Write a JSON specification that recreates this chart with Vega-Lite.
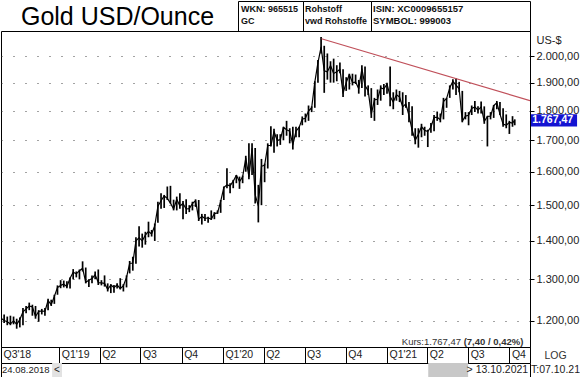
{
  "$schema": "https://vega.github.io/schema/vega-lite/v6.json",
  "padding": 0,
  "spacing": 30,
  "bounds": "flush",
  "background": "white",
  "autosize": {"type": "pad"},
  "datasets": {
    "gold": [
      {"d":"2018-08-24","lo":1185,"hi":1210,"c":1206},
      {"d":"2018-08-31","lo":1195,"hi":1215,"c":1201},
      {"d":"2018-09-07","lo":1190,"hi":1210,"c":1198},
      {"d":"2018-09-14","lo":1190,"hi":1212,"c":1193},
      {"d":"2018-09-21","lo":1192,"hi":1210,"c":1200},
      {"d":"2018-09-28","lo":1182,"hi":1205,"c":1192},
      {"d":"2018-10-05","lo":1185,"hi":1208,"c":1203},
      {"d":"2018-10-12","lo":1190,"hi":1230,"c":1221},
      {"d":"2018-10-19","lo":1218,"hi":1235,"c":1228},
      {"d":"2018-10-26","lo":1225,"hi":1243,"c":1235},
      {"d":"2018-11-02","lo":1212,"hi":1238,"c":1233},
      {"d":"2018-11-09","lo":1205,"hi":1235,"c":1210},
      {"d":"2018-11-16","lo":1198,"hi":1225,"c":1222},
      {"d":"2018-11-23","lo":1215,"hi":1228,"c":1223},
      {"d":"2018-11-30","lo":1212,"hi":1230,"c":1222},
      {"d":"2018-12-07","lo":1225,"hi":1252,"c":1248},
      {"d":"2018-12-14","lo":1235,"hi":1250,"c":1238},
      {"d":"2018-12-21","lo":1240,"hi":1262,"c":1258},
      {"d":"2018-12-28","lo":1262,"hi":1285,"c":1280},
      {"d":"2019-01-04","lo":1278,"hi":1298,"c":1285},
      {"d":"2019-01-11","lo":1280,"hi":1297,"c":1288},
      {"d":"2019-01-18","lo":1278,"hi":1295,"c":1282},
      {"d":"2019-01-25","lo":1277,"hi":1305,"c":1303},
      {"d":"2019-02-01","lo":1300,"hi":1326,"c":1318},
      {"d":"2019-02-08","lo":1305,"hi":1320,"c":1314},
      {"d":"2019-02-15","lo":1300,"hi":1325,"c":1322},
      {"d":"2019-02-22","lo":1320,"hi":1346,"c":1328},
      {"d":"2019-03-01","lo":1290,"hi":1330,"c":1293},
      {"d":"2019-03-08","lo":1281,"hi":1300,"c":1298},
      {"d":"2019-03-15","lo":1290,"hi":1310,"c":1302},
      {"d":"2019-03-22","lo":1300,"hi":1320,"c":1312},
      {"d":"2019-03-29","lo":1286,"hi":1325,"c":1292},
      {"d":"2019-04-05","lo":1285,"hi":1298,"c":1291},
      {"d":"2019-04-12","lo":1282,"hi":1310,"c":1290},
      {"d":"2019-04-19","lo":1270,"hi":1290,"c":1275},
      {"d":"2019-04-26","lo":1266,"hi":1288,"c":1286},
      {"d":"2019-05-03","lo":1267,"hi":1286,"c":1280},
      {"d":"2019-05-10","lo":1277,"hi":1290,"c":1286},
      {"d":"2019-05-17","lo":1275,"hi":1303,"c":1277},
      {"d":"2019-05-24","lo":1270,"hi":1288,"c":1284},
      {"d":"2019-05-31","lo":1280,"hi":1310,"c":1305},
      {"d":"2019-06-07","lo":1315,"hi":1347,"c":1341},
      {"d":"2019-06-14","lo":1322,"hi":1358,"c":1341},
      {"d":"2019-06-21","lo":1340,"hi":1410,"c":1400},
      {"d":"2019-06-28","lo":1385,"hi":1440,"c":1409},
      {"d":"2019-07-05","lo":1382,"hi":1420,"c":1400},
      {"d":"2019-07-12","lo":1390,"hi":1425,"c":1416},
      {"d":"2019-07-19","lo":1410,"hi":1453,"c":1426},
      {"d":"2019-07-26","lo":1412,"hi":1430,"c":1419},
      {"d":"2019-08-02","lo":1400,"hi":1448,"c":1442},
      {"d":"2019-08-09","lo":1450,"hi":1510,"c":1497},
      {"d":"2019-08-16","lo":1490,"hi":1535,"c":1513},
      {"d":"2019-08-23","lo":1492,"hi":1530,"c":1527},
      {"d":"2019-08-30","lo":1515,"hi":1555,"c":1520},
      {"d":"2019-09-06","lo":1505,"hi":1557,"c":1506},
      {"d":"2019-09-13","lo":1485,"hi":1516,"c":1489},
      {"d":"2019-09-20","lo":1485,"hi":1525,"c":1517},
      {"d":"2019-09-27","lo":1490,"hi":1535,"c":1498},
      {"d":"2019-10-04","lo":1460,"hi":1512,"c":1505},
      {"d":"2019-10-11","lo":1475,"hi":1517,"c":1489},
      {"d":"2019-10-18","lo":1480,"hi":1500,"c":1490},
      {"d":"2019-10-25","lo":1485,"hi":1510,"c":1505},
      {"d":"2019-11-01","lo":1495,"hi":1517,"c":1513},
      {"d":"2019-11-08","lo":1455,"hi":1515,"c":1460},
      {"d":"2019-11-15","lo":1445,"hi":1475,"c":1468},
      {"d":"2019-11-22","lo":1455,"hi":1475,"c":1462},
      {"d":"2019-11-29","lo":1450,"hi":1467,"c":1464},
      {"d":"2019-12-06","lo":1458,"hi":1485,"c":1460},
      {"d":"2019-12-13","lo":1460,"hi":1480,"c":1476},
      {"d":"2019-12-20","lo":1475,"hi":1485,"c":1478},
      {"d":"2019-12-27","lo":1478,"hi":1515,"c":1511},
      {"d":"2020-01-03","lo":1515,"hi":1555,"c":1552},
      {"d":"2020-01-10","lo":1550,"hi":1611,"c":1560},
      {"d":"2020-01-17","lo":1535,"hi":1565,"c":1557},
      {"d":"2020-01-24","lo":1550,"hi":1575,"c":1571},
      {"d":"2020-01-31","lo":1565,"hi":1590,"c":1589},
      {"d":"2020-02-07","lo":1548,"hi":1585,"c":1570},
      {"d":"2020-02-14","lo":1565,"hi":1588,"c":1584},
      {"d":"2020-02-21","lo":1600,"hi":1650,"c":1643},
      {"d":"2020-02-28","lo":1577,"hi":1690,"c":1585},
      {"d":"2020-03-06","lo":1590,"hi":1690,"c":1673},
      {"d":"2020-03-13","lo":1505,"hi":1675,"c":1530},
      {"d":"2020-03-20","lo":1451,"hi":1560,"c":1498},
      {"d":"2020-03-27","lo":1500,"hi":1640,"c":1617},
      {"d":"2020-04-03","lo":1568,"hi":1625,"c":1620},
      {"d":"2020-04-10","lo":1610,"hi":1690,"c":1683},
      {"d":"2020-04-17","lo":1680,"hi":1747,"c":1683},
      {"d":"2020-04-24","lo":1660,"hi":1738,"c":1729},
      {"d":"2020-05-01","lo":1680,"hi":1720,"c":1700},
      {"d":"2020-05-08","lo":1685,"hi":1720,"c":1702},
      {"d":"2020-05-15","lo":1700,"hi":1745,"c":1743},
      {"d":"2020-05-22","lo":1715,"hi":1765,"c":1735},
      {"d":"2020-05-29","lo":1690,"hi":1740,"c":1730},
      {"d":"2020-06-05","lo":1670,"hi":1745,"c":1685},
      {"d":"2020-06-12","lo":1710,"hi":1745,"c":1730},
      {"d":"2020-06-19","lo":1710,"hi":1745,"c":1743},
      {"d":"2020-06-26","lo":1750,"hi":1780,"c":1771},
      {"d":"2020-07-03","lo":1760,"hi":1790,"c":1774},
      {"d":"2020-07-10","lo":1765,"hi":1818,"c":1799},
      {"d":"2020-07-17","lo":1795,"hi":1815,"c":1810},
      {"d":"2020-07-24","lo":1810,"hi":1905,"c":1902},
      {"d":"2020-07-31","lo":1900,"hi":1985,"c":1975},
      {"d":"2020-08-07","lo":2010,"hi":2075,"c":2035},
      {"d":"2020-08-14","lo":1863,"hi":2040,"c":1944},
      {"d":"2020-08-21","lo":1911,"hi":2010,"c":1940},
      {"d":"2020-08-28","lo":1900,"hi":1980,"c":1964},
      {"d":"2020-09-04","lo":1900,"hi":1990,"c":1934},
      {"d":"2020-09-11","lo":1905,"hi":1965,"c":1940},
      {"d":"2020-09-18","lo":1935,"hi":1975,"c":1950},
      {"d":"2020-09-25","lo":1848,"hi":1950,"c":1862},
      {"d":"2020-10-02","lo":1870,"hi":1920,"c":1900},
      {"d":"2020-10-09","lo":1875,"hi":1933,"c":1930},
      {"d":"2020-10-16","lo":1890,"hi":1933,"c":1900},
      {"d":"2020-10-23","lo":1895,"hi":1930,"c":1902},
      {"d":"2020-10-30","lo":1860,"hi":1910,"c":1878},
      {"d":"2020-11-06","lo":1880,"hi":1965,"c":1951},
      {"d":"2020-11-13","lo":1850,"hi":1960,"c":1889},
      {"d":"2020-11-20","lo":1855,"hi":1890,"c":1871},
      {"d":"2020-11-27","lo":1775,"hi":1880,"c":1788},
      {"d":"2020-12-04","lo":1765,"hi":1845,"c":1838},
      {"d":"2020-12-11","lo":1820,"hi":1875,"c":1840},
      {"d":"2020-12-18","lo":1835,"hi":1890,"c":1881},
      {"d":"2020-12-25","lo":1855,"hi":1895,"c":1877},
      {"d":"2021-01-01","lo":1860,"hi":1900,"c":1895},
      {"d":"2021-01-08","lo":1815,"hi":1960,"c":1850},
      {"d":"2021-01-15","lo":1805,"hi":1865,"c":1830},
      {"d":"2021-01-22","lo":1835,"hi":1875,"c":1856},
      {"d":"2021-01-29","lo":1830,"hi":1870,"c":1848},
      {"d":"2021-02-05","lo":1785,"hi":1865,"c":1813},
      {"d":"2021-02-12","lo":1810,"hi":1855,"c":1824},
      {"d":"2021-02-19","lo":1760,"hi":1830,"c":1784},
      {"d":"2021-02-26","lo":1715,"hi":1815,"c":1734},
      {"d":"2021-03-05","lo":1687,"hi":1740,"c":1700},
      {"d":"2021-03-12","lo":1676,"hi":1740,"c":1720},
      {"d":"2021-03-19","lo":1710,"hi":1755,"c":1745},
      {"d":"2021-03-26","lo":1715,"hi":1745,"c":1733},
      {"d":"2021-04-02","lo":1678,"hi":1735,"c":1729},
      {"d":"2021-04-09","lo":1725,"hi":1758,"c":1744},
      {"d":"2021-04-16","lo":1730,"hi":1785,"c":1777},
      {"d":"2021-04-23","lo":1765,"hi":1797,"c":1777},
      {"d":"2021-04-30","lo":1760,"hi":1790,"c":1769},
      {"d":"2021-05-07","lo":1770,"hi":1845,"c":1832},
      {"d":"2021-05-14","lo":1810,"hi":1845,"c":1843},
      {"d":"2021-05-21","lo":1845,"hi":1890,"c":1881},
      {"d":"2021-05-28","lo":1875,"hi":1912,"c":1905},
      {"d":"2021-06-04","lo":1855,"hi":1916,"c":1891},
      {"d":"2021-06-11","lo":1865,"hi":1903,"c":1877},
      {"d":"2021-06-18","lo":1760,"hi":1870,"c":1764},
      {"d":"2021-06-25","lo":1770,"hi":1795,"c":1781},
      {"d":"2021-07-02","lo":1750,"hi":1795,"c":1784},
      {"d":"2021-07-09","lo":1785,"hi":1818,"c":1808},
      {"d":"2021-07-16","lo":1795,"hi":1834,"c":1813},
      {"d":"2021-07-23","lo":1790,"hi":1815,"c":1802},
      {"d":"2021-07-30","lo":1790,"hi":1832,"c":1813},
      {"d":"2021-08-06","lo":1755,"hi":1815,"c":1763},
      {"d":"2021-08-13","lo":1680,"hi":1782,"c":1780},
      {"d":"2021-08-20","lo":1770,"hi":1795,"c":1781},
      {"d":"2021-08-27","lo":1775,"hi":1820,"c":1817},
      {"d":"2021-09-03","lo":1805,"hi":1834,"c":1828},
      {"d":"2021-09-10","lo":1785,"hi":1830,"c":1788},
      {"d":"2021-09-17","lo":1745,"hi":1808,"c":1754},
      {"d":"2021-09-24","lo":1740,"hi":1787,"c":1750},
      {"d":"2021-10-01","lo":1721,"hi":1765,"c":1760},
      {"d":"2021-10-08","lo":1745,"hi":1781,"c":1757},
      {"d":"2021-10-13","lo":1750,"hi":1770,"c":1767.47}
    ],
    "trend": [
      {"d":"2020-08-08","p":2068},
      {"d":"2021-11-16","p":1835}
    ]
  },
  "vconcat": [
    {
      "spacing": 0,
      "bounds": "flush",
      "hconcat": [
        {
          "width": 237, "height": 30,
          "data": {"values": [{"t": "Gold USD/Ounce"}]},
          "mark": {"type": "text", "fontSize": 25, "font": "Liberation Sans", "color": "#000", "baseline": "middle", "dy": 1, "dx": -2},
          "encoding": {"text": {"field": "t", "type": "nominal"}}
        },
        {
          "width": 65, "height": 30,
          "data": {"values": [{"r": 1, "t": "WKN: 965515"}, {"r": 2, "t": "GC"}]},
          "mark": {"type": "text", "fontSize": 9, "fontWeight": "bold", "font": "Liberation Sans", "color": "#111", "align": "left", "baseline": "middle", "dx": 3},
          "encoding": {
            "x": {"datum": 0, "type": "quantitative", "scale": {"domain": [0, 1]}, "axis": null},
            "y": {"field": "r", "type": "ordinal", "scale": {"type": "point", "range": [8, 20], "padding": 0}, "axis": null},
            "text": {"field": "t", "type": "nominal"}
          }
        },
        {
          "width": 68, "height": 30,
          "data": {"values": [{"r": 1, "t": "Rohstoff"}, {"r": 2, "t": "vwd Rohstoffe"}]},
          "mark": {"type": "text", "fontSize": 9, "fontWeight": "bold", "font": "Liberation Sans", "color": "#111", "align": "left", "baseline": "middle", "dx": 2},
          "encoding": {
            "x": {"datum": 0, "type": "quantitative", "scale": {"domain": [0, 1]}, "axis": null},
            "y": {"field": "r", "type": "ordinal", "scale": {"type": "point", "range": [8, 20], "padding": 0}, "axis": null},
            "text": {"field": "t", "type": "nominal"}
          }
        },
        {
          "width": 159, "height": 30,
          "data": {"values": [{"r": 1, "t": "ISIN: XC0009655157"}, {"r": 2, "t": "SYMBOL: 999003"}]},
          "mark": {"type": "text", "fontSize": 9.5, "fontWeight": "bold", "font": "Liberation Sans", "color": "#111", "align": "left", "baseline": "middle", "dx": 2},
          "encoding": {
            "x": {"datum": 0, "type": "quantitative", "scale": {"domain": [0, 1]}, "axis": null},
            "y": {"field": "r", "type": "ordinal", "scale": {"type": "point", "range": [8, 20], "padding": 0}, "axis": null},
            "text": {"field": "t", "type": "nominal"}
          }
        },
        {
          "width": 51, "height": 30,
          "data": {"values": [{"t": ""}]},
          "mark": {"type": "text"},
          "encoding": {"text": {"field": "t", "type": "nominal"}}
        }
      ]
    },
    {
      "spacing": 16,
      "bounds": "flush",
      "vconcat": [
        {
          "width": 529,
          "height": 316,
          "layer": [
            {
              "data": {"name": "gold"},
              "mark": {"type": "rule", "color": "#000", "strokeWidth": 1.7, "clip": true},
              "encoding": {
                "x": {
                  "field": "d", "type": "temporal", "title": "LOG",
                  "scale": {"type": "utc", "domain": [{"year": 2018, "month": 8, "date": 24, "utc": true}, {"year": 2021, "month": 11, "date": 16, "utc": true}]},
                  "axis": {
                    "orient": "bottom",
                    "values": [
                      {"year": 2018, "month": 8, "date": 24, "utc": true},
                      {"year": 2019, "month": 1, "date": 1, "utc": true},
                      {"year": 2019, "month": 4, "date": 1, "utc": true},
                      {"year": 2019, "month": 7, "date": 1, "utc": true},
                      {"year": 2019, "month": 10, "date": 1, "utc": true},
                      {"year": 2020, "month": 1, "date": 1, "utc": true},
                      {"year": 2020, "month": 4, "date": 1, "utc": true},
                      {"year": 2020, "month": 7, "date": 1, "utc": true},
                      {"year": 2020, "month": 10, "date": 1, "utc": true},
                      {"year": 2021, "month": 1, "date": 1, "utc": true},
                      {"year": 2021, "month": 4, "date": 1, "utc": true},
                      {"year": 2021, "month": 7, "date": 1, "utc": true},
                      {"year": 2021, "month": 10, "date": 1, "utc": true},
                      {"year": 2021, "month": 11, "date": 16, "utc": true}
                    ],
                    "labelExpr": "utcyear(datum.value) == 2018 ? \"Q3'18\" : (utcmonth(datum.value) == 10 ? \"\" : (utcmonth(datum.value) == 0 ? \"Q1'\" + (utcyear(datum.value) - 2000) : \"Q\" + (floor(utcmonth(datum.value) / 3) + 1)))",
                    "labelAlign": "left",
                    "labelBaseline": "top",
                    "labelPadding": -14,
                    "labelOffset": 2,
                    "labelFontSize": 10.5,
                    "labelColor": "#222",
                    "labelFlush": false,
                    "labelOverlap": false,
                    "labelBound": false,
                    "tickSize": 16,
                    "tickColor": "#000",
                    "domainColor": "#000",
                    "grid": false,
                    "titleX": 554,
                    "titleY": 8,
                    "titleAlign": "center",
                    "titleBaseline": "middle",
                    "titleFontWeight": "normal",
                    "titleFontSize": 10.5,
                    "titleColor": "#333"
                  }
                },
                "y": {
                  "field": "lo", "type": "quantitative", "title": "US-$",
                  "scale": {"type": "log", "domain": [1141, 2099], "nice": false, "zero": false},
                  "axis": {
                    "orient": "right",
                    "values": [1200, 1300, 1400, 1500, 1600, 1700, 1800, 1900, 2000],
                    "labelExpr": "replace(replace(replace(format(datum.value, ',.2f'), ',', '_'), '.', ','), '_', '.')",
                    "grid": true,
                    "gridDash": [1, 11],
                    "gridColor": "#333",
                    "gridOpacity": 0.9,
                    "tickSize": 4,
                    "tickColor": "#000",
                    "domainColor": "#000",
                    "labelPadding": 2,
                    "labelFontSize": 11,
                    "labelColor": "#222",
                    "labelOverlap": false,
                    "labelFlush": false,
                    "titleAngle": 0,
                    "titleAlign": "left",
                    "titleBaseline": "middle",
                    "titleX": 6,
                    "titleY": 9,
                    "titleFontWeight": "normal",
                    "titleFontSize": 11,
                    "titleColor": "#222"
                  }
                },
                "y2": {"field": "hi"}
              }
            },
            {
              "data": {"name": "gold"},
              "mark": {"type": "line", "color": "#000", "strokeWidth": 1.2, "strokeJoin": "round", "clip": true},
              "encoding": {
                "x": {"field": "d", "type": "temporal", "title": "LOG"},
                "y": {"field": "c", "type": "quantitative", "title": "US-$"}
              }
            },
            {
              "data": {"name": "trend"},
              "mark": {"type": "line", "color": "#c0505a", "strokeWidth": 1.2, "strokeJoin": "round", "clip": true},
              "encoding": {
                "x": {"field": "d", "type": "temporal", "title": "LOG"},
                "y": {"field": "p", "type": "quantitative", "title": "US-$"}
              }
            },
            {
              "data": {"values": [{}]},
              "mark": {"type": "rect", "color": "#1414d2"},
              "encoding": {
                "x": {"datum": {"year": 2021, "month": 11, "date": 18, "utc": true}, "type": "temporal"},
                "x2": {"datum": {"year": 2022, "month": 3, "date": 1, "utc": true}},
                "y": {"datum": 1788, "type": "quantitative"},
                "y2": {"datum": 1746}
              }
            },
            {
              "data": {"values": [{}]},
              "mark": {"type": "text", "color": "#fff", "fontWeight": "bold", "fontSize": 10.5, "align": "left", "baseline": "middle", "font": "Liberation Sans"},
              "encoding": {
                "x": {"datum": {"year": 2021, "month": 11, "date": 21, "utc": true}, "type": "temporal"},
                "y": {"datum": 1767.47, "type": "quantitative"},
                "text": {"value": "1.767,47"}
              }
            },
            {
              "data": {"values": [{}]},
              "mark": {"type": "text", "color": "#333", "fontSize": 9.5, "align": "right", "baseline": "middle", "font": "Liberation Sans"},
              "encoding": {
                "x": {"datum": {"year": 2021, "month": 6, "date": 15, "utc": true}, "type": "temporal"},
                "y": {"datum": 1153, "type": "quantitative"},
                "text": {"value": "Kurs:1.767,47"}
              }
            },
            {
              "data": {"values": [{}]},
              "mark": {"type": "text", "color": "#333", "fontSize": 9.5, "fontWeight": "bold", "align": "left", "baseline": "middle", "font": "Liberation Sans"},
              "encoding": {
                "x": {"datum": {"year": 2021, "month": 6, "date": 21, "utc": true}, "type": "temporal"},
                "y": {"datum": 1153, "type": "quantitative"},
                "text": {"value": "(7,40 / 0,42%)"}
              }
            }
          ]
        },
        {
          "spacing": 0,
          "bounds": "flush",
          "hconcat": [
            {
              "width": 529, "height": 14,
              "layer": [
                {
                  "data": {"values": [{}]},
                  "mark": {"type": "rect", "color": "#e2e2e2"},
                  "encoding": {
                    "x": {"datum": {"year": 2018, "month": 12, "date": 16, "utc": true}, "type": "temporal",
                          "scale": {"type": "utc", "domain": [{"year": 2018, "month": 8, "date": 24, "utc": true}, {"year": 2021, "month": 11, "date": 16, "utc": true}]}, "axis": null},
                    "x2": {"datum": {"year": 2019, "month": 1, "date": 7, "utc": true}}
                  }
                },
                {
                  "data": {"values": [{}]},
                  "mark": {"type": "rect", "color": "#c8c8c8"},
                  "encoding": {
                    "x": {"datum": {"year": 2021, "month": 4, "date": 3, "utc": true}, "type": "temporal"},
                    "x2": {"datum": {"year": 2021, "month": 7, "date": 1, "utc": true}}
                  }
                },
                {
                  "data": {"values": [{}]},
                  "mark": {"type": "text", "color": "#222", "fontSize": 9.5, "align": "left", "baseline": "middle", "font": "Liberation Sans", "dx": 1},
                  "encoding": {
                    "x": {"datum": {"year": 2018, "month": 8, "date": 24, "utc": true}, "type": "temporal"},
                    "text": {"value": "24.08.2018"}
                  }
                },
                {
                  "data": {"values": [{}]},
                  "mark": {"type": "text", "color": "#222", "fontSize": 10, "align": "center", "baseline": "middle", "font": "Liberation Sans"},
                  "encoding": {
                    "x": {"datum": {"year": 2018, "month": 12, "date": 27, "utc": true}, "type": "temporal"},
                    "text": {"value": "<"}
                  }
                },
                {
                  "data": {"values": [{}]},
                  "mark": {"type": "text", "color": "#222", "fontSize": 10.5, "align": "right", "baseline": "middle", "font": "Liberation Sans"},
                  "encoding": {
                    "x": {"datum": {"year": 2021, "month": 11, "date": 12, "utc": true}, "type": "temporal"},
                    "text": {"value": ">  13.10.2021"}
                  }
                }
              ]
            },
            {
              "width": 51, "height": 14,
              "data": {"values": [{"t": "T:07.10.21"}]},
              "mark": {"type": "text", "fontSize": 10.5, "font": "Liberation Sans", "color": "#222", "baseline": "middle"},
              "encoding": {"text": {"field": "t", "type": "nominal"}}
            }
          ]
        }
      ]
    }
  ],
  "config": {
    "font": "Liberation Sans",
    "view": {"stroke": "#000", "strokeWidth": 1}
  }
}
